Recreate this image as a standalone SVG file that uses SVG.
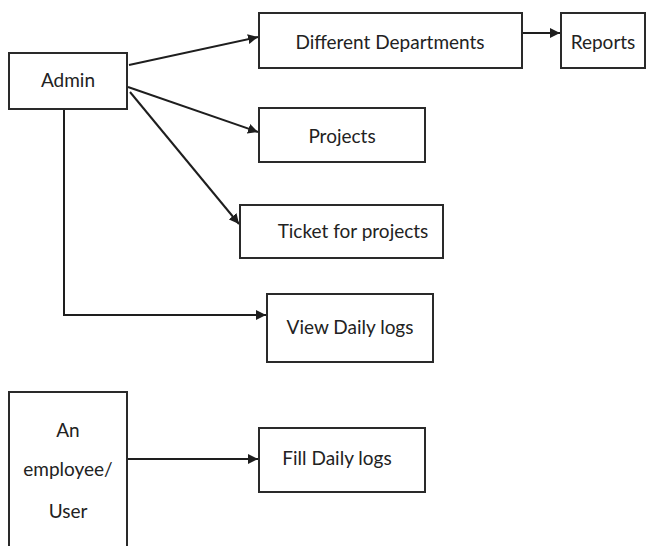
<svg xmlns="http://www.w3.org/2000/svg" width="649" height="546" viewBox="0 0 649 546">
<defs>
<marker id="arr" viewBox="0 0 10 10" refX="10" refY="5" markerWidth="5" markerHeight="5" orient="auto" markerUnits="strokeWidth">
<path d="M0,0 L10,5 L0,10 z" fill="#1e1e1e"/>
</marker>
<style>
.box{fill:#fff;stroke:#2a2a2a;stroke-width:2}
.lbl{font-family:Lato,"Open Sans",sans-serif;font-size:19px;fill:#222;text-anchor:middle}
.con{fill:none;stroke:#1e1e1e;stroke-width:2}
.arr{marker-end:url(#arr)}
</style>
</defs>
<rect width="649" height="546" fill="#fff"/>
<g id="connectors">
<line class="con arr" x1="129" y1="65" x2="258" y2="37"/>
<line class="con arr" x1="128" y1="87" x2="258" y2="132"/>
<line class="con arr" x1="130" y1="92" x2="239" y2="224"/>
<polyline class="con arr" points="64,109 64,315 266,315"/>
<line class="con arr" x1="522" y1="33" x2="560" y2="33"/>
<line class="con arr" x1="128" y1="459" x2="258" y2="459"/>
</g>
<g id="admin"><rect class="box" x="9" y="53" width="118" height="56"/><text class="lbl" x="68" y="87">Admin</text></g>
<g id="departments"><rect class="box" x="259" y="13" width="263" height="55"/><text class="lbl" x="390" y="49">Different Departments</text></g>
<g id="reports"><rect class="box" x="561" y="13" width="84" height="55"/><text class="lbl" x="603" y="49">Reports</text></g>
<g id="projects"><rect class="box" x="259" y="108" width="166" height="54"/><text class="lbl" x="342" y="143">Projects</text></g>
<g id="ticket"><rect class="box" x="240" y="205" width="203" height="53"/><text class="lbl" x="353" y="238">Ticket for projects</text></g>
<g id="viewlogs"><rect class="box" x="267" y="294" width="166" height="68"/><text class="lbl" x="350" y="334">View Daily logs</text></g>
<g id="employee"><rect class="box" x="9" y="392" width="118" height="160"/><text class="lbl" x="68" y="437">An</text><text class="lbl" x="68" y="476">employee/</text><text class="lbl" x="68" y="518">User</text></g>
<g id="filllogs"><rect class="box" x="259" y="428" width="166" height="64"/><text class="lbl" x="337" y="465">Fill Daily logs</text></g>
</svg>
